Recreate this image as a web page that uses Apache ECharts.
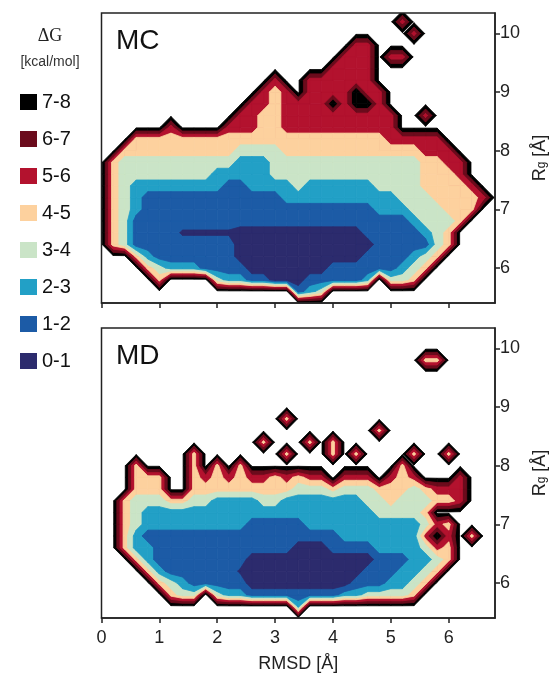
<!DOCTYPE html>
<html>
<head>
<meta charset="utf-8">
<script src="https://cdn.jsdelivr.net/npm/echarts@6/dist/echarts.min.js"></script>
<style>
html, body { margin: 0; padding: 0; background: #fff; }
#main { width: 557px; height: 676px; }
</style>
</head>
<body>
<div id="main"></div>
<script>
// free energy bands, highest first (legend order)
const bandNames = ['7-8', '6-7', '5-6', '4-5', '3-4', '2-3', '1-2', '0-1'];
const bandColors = ['#000000', '#6b0b1c', '#b3122e', '#fdd19e', '#cae4c7', '#22a0c6', '#1c5ba6', '#2c2b6d'];
const levelTops = [8, 7, 6, 5, 4, 3, 2, 1];

const xTicks = [0, 1, 2, 3, 4, 5, 6];
const yTicks = [6, 7, 8, 9, 10];

// sampling grid: RMSD 0..6.8, Rg 5.4..10.4, step 0.2
const gridX0 = 0, gridY0 = 5.4, gridStep = 0.2, nCols = 35, nRows = 26;
const emptyValue = 8.2;
const specialValues = { a: 0.85, h: 8.0 };

// dG per grid point, rows from Rg = 10.4 (top) down to 5.4
// each row: [first column, run of band codes]; code d -> d - 0.5 kcal/mol,
// 'a' = thin 0-1 ridge, 'h' = sparsely sampled hole, '.' = not sampled
const mcRows = [
  [],
  [[26, '6']],
  [[27, '6']],
  [[22, '66']],
  [[21, '666'], [25, '66']],
  [[20, '6666']],
  [[15, '6'], [18, '666666']],
  [[14, '656'], [18, '6666'], [22, 'h'], [23, '66']],
  [[13, '66566'], [18, '66'], [20, 'h'], [21, '6'], [22, 'hh'], [24, '6']],
  [[12, '6655'], [16, '6666666666'], [28, '6']],
  [[6, '6'], [11, '66655'], [16, '6666666666']],
  [[3, '5555555555'], [13, '5555555555'], [23, '55'], [25, '66666']],
  [[2, '5555555555'], [12, '4444'], [16, '555555555555'], [28, '666']],
  [[1, '5'], [2, '4444444444'], [12, '333'], [15, '4444444444444'], [28, '55'], [30, '66']],
  [[1, '5'], [2, '44444444'], [10, '33333'], [15, '4444444444444'], [28, '555'], [31, '6']],
  [[1, '54'], [3, '33333333'], [11, '22'], [13, '3333'], [17, '4'], [18, '333333'], [24, '4444'], [28, '5555'], [32, '6']],
  [[1, '543'], [4, '222222222222'], [16, '3333333333'], [26, '444'], [29, '5555'], [33, '6']],
  [[1, '543'], [4, '22222222222222222222'], [24, '333'], [27, '444'], [30, '555']],
  [[1, '54'], [3, '222222222222222222222222'], [27, '3'], [28, '444'], [31, '5']],
  [[1, '54'], [3, '2222'], [7, 'aaaaa'], [12, '11111111111'], [23, '22222'], [28, '345']],
  [[1, '54'], [3, '222222222'], [12, '111111111111'], [24, '22222'], [29, '45']],
  [[3, '53'], [5, '2222222'], [12, '11111111111'], [23, '2222'], [27, '345']],
  [[4, '54'], [6, '333'], [9, '2222'], [13, '1111111'], [20, '222222'], [26, '345']],
  [[5, '5'], [10, '433'], [13, '22'], [15, '111'], [18, '22222'], [23, '3'], [25, '445']],
  [[17, '234']],
  []
];

const mdRows = [
  [],
  [],
  [],
  [[28, '55']],
  [],
  [],
  [],
  [],
  [[16, '5']],
  [[24, '5']],
  [[14, '5'], [18, '5'], [20, '5']],
  [[8, '5'], [16, '5'], [20, '5'], [22, '5'], [27, '5'], [30, '5']],
  [[3, '5'], [8, '5'], [10, '5'], [12, '5'], [26, '5']],
  [[3, '555'], [8, '565656656566'], [21, '666'], [25, '656'], [31, '6']],
  [[3, '555'], [8, '555555555'], [17, '444'], [20, '5'], [21, '444'], [24, '555'], [27, '4'], [28, '5'], [29, '666']],
  [[2, '5444'], [6, '55'], [8, '44'], [10, '3333'], [14, '44'], [16, '3333333'], [23, '44'], [25, '5'], [26, '444'], [29, '55'], [31, '6']],
  [[2, '54'], [4, '33333333333333333333'], [24, '4444'], [28, '5']],
  [[2, '54'], [4, '333333333'], [13, '22222'], [18, '3333333333'], [28, '4'], [29, '6'], [30, '5']],
  [[2, '53'], [4, '22222222222222222'], [21, '3333333'], [28, '6h6'], [32, '5']],
  [[2, '533'], [5, '222222222222'], [17, '111'], [20, '2222'], [24, '3333'], [28, '465']],
  [[3, '53'], [5, '22222222'], [13, '11111111111'], [24, '222'], [27, '33'], [29, '45']],
  [[4, '53'], [6, '222222'], [12, 'a'], [13, '1111111111'], [23, '222'], [26, '33'], [28, '45']],
  [[5, '543'], [8, '22222'], [13, '111111111'], [22, '222'], [25, '33'], [27, '45']],
  [[6, '544.433'], [13, '22222222'], [21, '33'], [23, '4444'], [27, '5']],
  [[17, '3']],
  []
];

function toGrid(rows) {
  const g = [];
  for (let r = 0; r < nRows; r++) {
    const line = new Array(nCols).fill(emptyValue);
    rows[r].forEach(function (seg) {
      for (let k = 0; k < seg[1].length; k++) {
        const ch = seg[1][k];
        line[seg[0] + k] = ch === '.' ? emptyValue : (ch in specialValues ? specialValues[ch] : +ch - 0.5);
      }
    });
    g[nRows - 1 - r] = line;
  }
  return g;
}

// part of a grid cell where dG <= t (marching squares, saddles kept apart)
function cellPolys(c, t) {
  const inside = c.map(p => p[2] <= t);
  const n = inside.filter(Boolean).length;
  if (n === 0) return [];
  if (n === 4) return [c.map(p => [p[0], p[1]])];
  const cross = function (a, b) {
    const s = (t - a[2]) / (b[2] - a[2]);
    return [a[0] + s * (b[0] - a[0]), a[1] + s * (b[1] - a[1])];
  };
  if (n === 2 && inside[0] === inside[2]) {
    const out = [];
    for (let k = 0; k < 4; k++) {
      if (!inside[k]) continue;
      const p = c[k];
      out.push([[p[0], p[1]], cross(p, c[(k + 1) % 4]), cross(p, c[(k + 3) % 4])]);
    }
    return out;
  }
  const poly = [];
  for (let k = 0; k < 4; k++) {
    const a = c[k], b = c[(k + 1) % 4];
    if (inside[k]) poly.push([a[0], a[1]]);
    if (inside[k] !== inside[(k + 1) % 4]) poly.push(cross(a, b));
  }
  return [poly];
}

// one custom series per level, painted from the highest level down
function landscapeSeries(rows, idx) {
  const grid = toGrid(rows);
  const corner = (i, j) => [gridX0 + i * gridStep, gridY0 + j * gridStep, grid[j][i]];
  return levelTops.map(function (t, k) {
    const color = bandColors[k];
    const cells = [];
    for (let j = 0; j < nRows - 1; j++) {
      for (let i = 0; i < nCols - 1; i++) {
        const v = [grid[j][i], grid[j][i + 1], grid[j + 1][i], grid[j + 1][i + 1]];
        const vmin = Math.min.apply(null, v), vmax = Math.max.apply(null, v);
        if (vmin <= t && t <= Math.min(8, Math.ceil(vmax))) {
          cells.push([gridX0 + i * gridStep, gridY0 + j * gridStep, i, j]);
        }
      }
    }
    return {
      type: 'custom',
      xAxisIndex: idx,
      yAxisIndex: idx,
      clip: true,
      silent: true,
      z: 2,
      data: cells,
      renderItem: function (params, api) {
        const i = api.value(2), j = api.value(3);
        const c = [corner(i, j), corner(i + 1, j), corner(i + 1, j + 1), corner(i, j + 1)];
        return {
          type: 'group',
          children: cellPolys(c, t).map(function (poly) {
            return {
              type: 'polygon',
              shape: { points: poly.map(p => api.coord(p)) },
              style: { fill: color, stroke: color, lineWidth: 0.8 }
            };
          })
        };
      }
    };
  });
}

const dom = document.getElementById('main');
const myChart = echarts.init(dom, null, { renderer: 'canvas' });
const font = 'Liberation Sans';
const axisColor = '#222';

function xAxisFor(idx, withLabels) {
  return {
    gridIndex: idx,
    type: 'value',
    min: 0,
    max: 6.8,
    z: 10,
    axisLine: { show: true, onZero: false, lineStyle: { color: axisColor, width: 1.5 } },
    axisTick: { show: true, customValues: xTicks, length: 5, lineStyle: { color: axisColor, width: 1.5 } },
    axisLabel: { show: withLabels, customValues: xTicks, fontSize: 18, margin: 11, color: axisColor, fontFamily: font },
    splitLine: { show: false },
    name: withLabels ? 'RMSD [Å]' : '',
    nameLocation: 'middle',
    nameGap: 37,
    nameTextStyle: { fontSize: 18, color: axisColor, fontFamily: font }
  };
}

function yAxisFor(idx) {
  return {
    gridIndex: idx,
    type: 'value',
    position: 'right',
    min: 5.4,
    max: 10.35,
    z: 10,
    axisLine: { show: true, onZero: false, lineStyle: { color: axisColor, width: 1.5 } },
    axisTick: { show: true, customValues: yTicks, length: 5, lineStyle: { color: axisColor, width: 1.5 } },
    axisLabel: { customValues: yTicks, fontSize: 18, margin: 5, color: axisColor, fontFamily: font },
    splitLine: { show: false },
    name: '{m|R}{s|g}{m| [Å]}',
    nameLocation: 'middle',
    nameRotate: 90,
    nameGap: 36,
    nameTextStyle: {
      color: axisColor,
      fontFamily: font,
      rich: {
        m: { fontSize: 18, color: axisColor, fontFamily: font, padding: [0, 0, 4, 0] },
        s: { fontSize: 12, color: axisColor, fontFamily: font }
      }
    }
  };
}

const option = {
  backgroundColor: '#ffffff',
  animation: false,
  title: [
    { text: 'ΔG', left: 45, top: 22, textAlign: 'center',
      textStyle: { fontFamily: 'Liberation Serif', fontSize: 18, fontWeight: 'normal', color: '#222' } },
    { text: '[kcal/mol]', left: 45, top: 50, textAlign: 'center',
      textStyle: { fontFamily: font, fontSize: 14, fontWeight: 'normal', color: '#333' } },
    { text: 'MC', left: 111, top: 22,
      textStyle: { fontFamily: font, fontSize: 28, fontWeight: 'normal', color: '#111' } },
    { text: 'MD', left: 111, top: 337,
      textStyle: { fontFamily: font, fontSize: 28, fontWeight: 'normal', color: '#111' } }
  ],
  legend: {
    orient: 'vertical',
    left: 15,
    top: 87,
    icon: 'rect',
    itemWidth: 17,
    itemHeight: 16,
    itemGap: 17,
    selectedMode: false,
    data: bandNames,
    itemStyle: { opacity: 1 },
    textStyle: { fontSize: 20, color: '#111', fontFamily: font }
  },
  grid: [
    { left: 101.5, top: 13, width: 396, height: 290, show: true, borderColor: axisColor, borderWidth: 1.5, z: 10 },
    { left: 101.5, top: 328, width: 396, height: 290, show: true, borderColor: axisColor, borderWidth: 1.5, z: 10 }
  ],
  xAxis: [xAxisFor(0, false), xAxisFor(1, true)],
  yAxis: [yAxisFor(0), yAxisFor(1)],
  series: landscapeSeries(mcRows, 0).concat(landscapeSeries(mdRows, 1)).concat(
    bandNames.map(function (name, k) {
      return { name: name, type: 'scatter', xAxisIndex: 0, yAxisIndex: 0, data: [],
        itemStyle: { color: bandColors[k], opacity: 1 } };
    })
  )
};

myChart.setOption(option);
window.addEventListener('resize', myChart.resize);
</script>
</body>
</html>
